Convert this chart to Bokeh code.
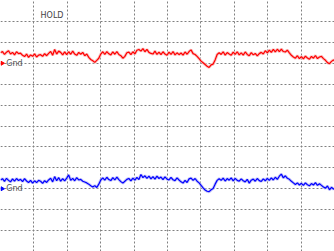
from bokeh.plotting import figure
from bokeh.models import FixedTicker, Label
from bokeh.embed import file_html
from bokeh.resources import INLINE

# sample times in divisions (every 2 px of a 334 px wide, 10-div screen)
n_samples = 168
time_div = [i * 10.0 / 333.0 * 2 for i in range(n_samples)]

ch1_ground = 9.0
ch2_ground = 3.0

# channel 1 (red), divisions above its ground marker
ch1 = [0.50,0.56,0.42,0.53,0.60,0.44,0.52,0.40,0.55,0.46,
       0.48,0.38,0.32,0.44,0.28,0.40,0.33,0.45,0.30,0.39,
       0.41,0.33,0.46,0.36,0.47,0.56,0.38,0.66,0.44,0.58,
       0.52,0.40,0.54,0.41,0.55,0.43,0.58,0.44,0.38,0.52,
       0.43,0.52,0.36,0.44,0.28,0.18,0.12,0.04,0.14,0.24,
       0.44,0.55,0.42,0.56,0.45,0.40,0.54,0.43,0.56,0.42,
       0.36,0.24,0.33,0.50,0.53,0.41,0.55,0.45,0.62,0.66,
       0.58,0.70,0.55,0.66,0.52,0.47,0.44,0.58,0.42,0.53,
       0.41,0.55,0.44,0.38,0.53,0.42,0.56,0.40,0.50,0.41,
       0.49,0.39,0.54,0.43,0.56,0.64,0.46,0.42,0.33,0.22,
       0.10,0.02,-0.06,-0.14,-0.20,-0.08,-0.04,0.16,0.42,0.50,
       0.42,0.55,0.39,0.51,0.44,0.38,0.53,0.42,0.55,0.40,
       0.50,0.39,0.54,0.42,0.36,0.51,0.40,0.47,0.35,0.46,
       0.52,0.44,0.60,0.50,0.63,0.52,0.66,0.54,0.67,0.55,
       0.68,0.56,0.54,0.63,0.50,0.38,0.30,0.24,0.36,0.22,
       0.32,0.21,0.34,0.25,0.19,0.33,0.24,0.37,0.22,0.30,
       0.33,0.22,0.14,0.03,-0.02,0.09,0.16,0.10]

# channel 2 (blue)
ch2 = [0.42,0.48,0.35,0.50,0.40,0.33,0.47,0.36,0.49,0.39,
       0.45,0.34,0.48,0.37,0.30,0.40,0.27,0.38,0.29,0.40,
       0.36,0.26,0.39,0.30,0.42,0.50,0.33,0.58,0.38,0.53,
       0.36,0.48,0.38,0.51,0.66,0.40,0.50,0.38,0.53,0.42,
       0.45,0.36,0.32,0.28,0.22,0.14,0.08,0.15,0.06,0.22,
       0.42,0.52,0.41,0.55,0.44,0.39,0.53,0.42,0.56,0.44,
       0.34,0.27,0.36,0.45,0.49,0.38,0.51,0.41,0.54,0.44,
       0.68,0.53,0.62,0.50,0.60,0.47,0.58,0.46,0.60,0.49,
       0.56,0.44,0.57,0.46,0.42,0.54,0.43,0.39,0.52,0.42,
       0.33,0.27,0.40,0.30,0.47,0.51,0.40,0.49,0.36,0.28,
       0.16,0.04,-0.06,-0.12,-0.14,-0.05,0.01,0.22,0.40,0.48,
       0.40,0.51,0.37,0.49,0.41,0.52,0.38,0.50,0.40,0.36,
       0.47,0.38,0.33,0.45,0.27,0.41,0.46,0.36,0.49,0.39,
       0.35,0.47,0.38,0.50,0.40,0.52,0.42,0.55,0.45,0.60,
       0.70,0.52,0.62,0.50,0.45,0.36,0.28,0.20,0.28,0.18,
       0.26,0.16,0.28,0.19,0.14,0.25,0.18,0.29,0.16,0.24,
       0.16,0.08,0.03,0.13,-0.05,0.07,-0.02,0.05]

x_ticks = [1, 2, 3, 4, 5, 6, 7, 8, 9]
y_ticks = [1, 2, 3, 4, 5, 6, 7, 8, 9, 10, 11]

p = figure(width=334, height=251, x_range=(0, 10), y_range=(0, 12),
           output_backend="svg", toolbar_location=None, min_border=0,
           background_fill_color="white", border_fill_color="white")
p.outline_line_color = None
p.xaxis.visible = False
p.yaxis.visible = False
p.xgrid.ticker = FixedTicker(ticks=x_ticks)
p.ygrid.ticker = FixedTicker(ticks=y_ticks)
for g in (p.xgrid, p.ygrid):
    g.grid_line_color = "#808080"
    g.grid_line_dash = "2 2"
    g.grid_line_width = 1

y1 = [ch1_ground + v for v in ch1]
y2 = [ch2_ground + v for v in ch2]

p.line(time_div, y1, line_color="#f6b4b4", line_width=3.0, line_alpha=0.8)
p.line(time_div, y1, line_color="#ff0000", line_width=1.2)
p.line(time_div, y2, line_color="#b8b8f6", line_width=3.0, line_alpha=0.8)
p.line(time_div, y2, line_color="#0000ff", line_width=1.2)

p.scatter([0.05], [ch1_ground], marker="triangle", angle=-1.5708, size=4,
          fill_color="#ff0000", line_color="#ff0000")
p.scatter([0.05], [ch2_ground], marker="triangle", angle=-1.5708, size=4,
          fill_color="#0000ff", line_color="#0000ff")

for gy in (ch1_ground, ch2_ground):
    p.add_layout(Label(x=0.17, y=gy, text="Gnd", text_font="DejaVu Sans",
                       text_font_size="8px", text_color="#555555",
                       text_baseline="middle"))

p.add_layout(Label(x=1.2, y=11.28, text="HOLD", text_font="DejaVu Sans",
                   text_font_size="8px", text_color="#444444",
                   text_baseline="middle"))

open("out.html", "w").write(file_html(p, INLINE))
